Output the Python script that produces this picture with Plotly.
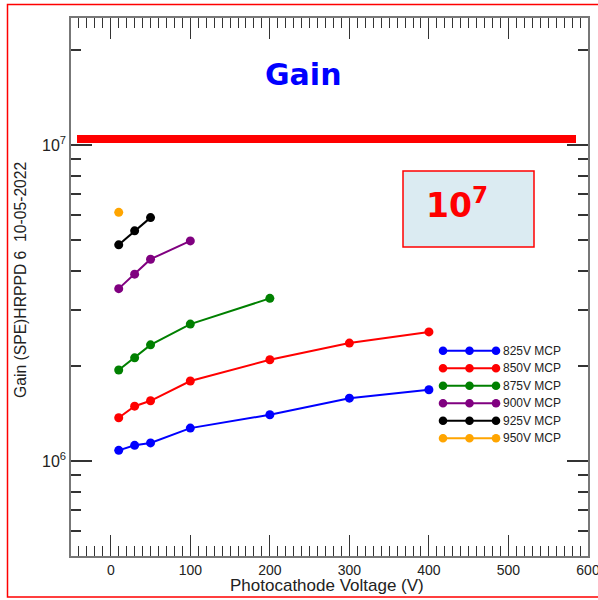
import plotly.graph_objects as go
import math

# ---------------- data ----------------
series_names = ["825V MCP", "850V MCP", "875V MCP", "900V MCP", "925V MCP", "950V MCP"]
series_colors = ["#0000ff", "#ff0000", "#008000", "#800080", "#000000", "#ffa500"]

V_825 = [10, 30, 50, 100, 200, 300, 400]
G_825 = [1.08e6, 1.12e6, 1.14e6, 1.27e6, 1.40e6, 1.58e6, 1.68e6]
V_850 = [10, 30, 50, 100, 200, 300, 400]
G_850 = [1.37e6, 1.49e6, 1.55e6, 1.79e6, 2.09e6, 2.36e6, 2.56e6]
V_875 = [10, 30, 50, 100, 200]
G_875 = [1.94e6, 2.12e6, 2.33e6, 2.71e6, 3.27e6]
V_900 = [10, 30, 50, 100]
G_900 = [3.51e6, 3.90e6, 4.35e6, 4.97e6]
V_925 = [10, 30, 50]
G_925 = [4.83e6, 5.35e6, 5.89e6]
V_950 = [10]
G_950 = [6.12e6]

x_tickvals = [0, 100, 200, 300, 400, 500, 600]
y_tickvals = [1e6, 1e7]
y_ticktext = ["10<sup>6</sup>", "10<sup>7</sup>"]
y_minor = [5e5, 6e5, 7e5, 8e5, 9e5] + [k * 1e6 for k in range(2, 10)] + [2e7]

TARGET_GAIN = 1.045e7

# ---------------- layout helpers ----------------
W, H = 598, 600
L, R, T, B = 71, 588, 18, 556
X_RANGE = [-50, 600]
Y_RANGE = [math.log10(5.0e5), 7.402]


def px(p):
    return (p - L) / (R - L)


def py(p):
    return (B - p) / (B - T)


def gy(v):
    return (math.log10(v) - Y_RANGE[0]) / (Y_RANGE[1] - Y_RANGE[0])


xs = [V_825, V_850, V_875, V_900, V_925, V_950]
ys = [G_825, G_850, G_875, G_900, G_925, G_950]

fig = go.Figure()
for name, col, xv, yv in zip(series_names, series_colors, xs, ys):
    fig.add_trace(go.Scatter(
        x=xv, y=yv, mode="lines+markers", name=name,
        line=dict(color=col, width=2),
        marker=dict(color=col, size=9),
        showlegend=False,
    ))

font_main = "Liberation Sans, Arial, sans-serif"
tick_col = "#333333"

shapes = []
annotations = []

# outer red frame
shapes.append(dict(type="rect", xref="paper", yref="paper",
                   x0=px(7.5), x1=px(602), y0=py(4.5), y1=py(597),
                   line=dict(color="#ff0000", width=1.5), layer="below"))

# thick red target line at ~1e7
shapes.append(dict(type="rect", xref="paper", yref="paper",
                   x0=px(77), x1=px(576),
                   y0=gy(TARGET_GAIN) - 4 / (B - T), y1=gy(TARGET_GAIN) + 4 / (B - T),
                   fillcolor="#ff0000", line=dict(width=0), layer="above"))

# box with 10^7
shapes.append(dict(type="rect", xref="paper", yref="paper",
                   x0=px(403), x1=px(534), y0=py(247), y1=py(171),
                   fillcolor="#dbebf2", line=dict(color="#ff0000", width=1.5)))
annotations.append(dict(xref="paper", yref="paper", x=px(424), y=py(203),
                        xanchor="left", yanchor="middle", showarrow=False,
                        text="<b>10<sup>7</sup></b>",
                        font=dict(family="DejaVu Sans, sans-serif", size=33, color="#ff0000")))

# title "Gain"
annotations.append(dict(xref="paper", yref="paper", x=px(303), y=py(75),
                        xanchor="center", yanchor="middle", showarrow=False,
                        text="<b>Gain</b>",
                        font=dict(family="DejaVu Sans, sans-serif", size=30, color="#0000ff")))

# axis titles
annotations.append(dict(xref="paper", yref="paper", x=px(327), y=py(585),
                        xanchor="center", yanchor="middle", showarrow=False,
                        text="Photocathode Voltage (V)",
                        font=dict(family=font_main, size=17, color="#222222")))
annotations.append(dict(xref="paper", yref="paper", x=px(20), y=py(280),
                        xanchor="center", yanchor="middle", showarrow=False,
                        textangle=-90,
                        text="Gain (SPE)HRPPD 6  10-05-2022",
                        font=dict(family=font_main, size=15.7, color="#222222")))

# custom legend
row0, step = 350.7, 17.5
for i, (name, col) in enumerate(zip(series_names, series_colors)):
    yy = row0 + i * step
    shapes.append(dict(type="line", xref="paper", yref="paper",
                       x0=px(443), x1=px(496), y0=py(yy), y1=py(yy),
                       line=dict(color=col, width=2)))
    for cx in (443, 469.5, 496):
        r = 4.3
        shapes.append(dict(type="circle", xref="paper", yref="paper",
                           x0=px(cx - r), x1=px(cx + r), y0=py(yy + r), y1=py(yy - r),
                           fillcolor=col, line=dict(color=col, width=0)))
    annotations.append(dict(xref="paper", yref="paper", x=px(501), y=py(yy),
                            xanchor="left", yanchor="middle", showarrow=False,
                            text=name,
                            font=dict(family=font_main, size=12, color="#222222")))

fig.update_layout(
    width=W, height=H,
    margin=dict(l=L, r=W - R, t=T, b=H - B),
    paper_bgcolor="white", plot_bgcolor="white",
    showlegend=False,
    shapes=shapes, annotations=annotations,
    xaxis=dict(
        range=X_RANGE, tickmode="array", tickvals=x_tickvals, automargin=False,
        ticklabeloverflow="allow",
        ticks="inside", ticklen=21, tickwidth=1, tickcolor=tick_col,
        showline=True, linecolor="#777777", linewidth=1.5, mirror="allticks",
        showgrid=False, zeroline=False,
        tickfont=dict(family=font_main, size=14, color="#222222"),
        minor=dict(ticks="inside", tickmode="linear", tick0=0, dtick=10,
                   ticklen=10, tickwidth=1, tickcolor=tick_col, showgrid=False),
    ),
    yaxis=dict(
        type="log", range=Y_RANGE, tickmode="array", automargin=False,
        tickvals=y_tickvals, ticktext=y_ticktext,
        ticks="inside", ticklen=21, tickwidth=1.5, tickcolor=tick_col,
        showline=True, linecolor="#777777", linewidth=1.5, mirror="allticks",
        showgrid=False, zeroline=False,
        tickfont=dict(family=font_main, size=16, color="#222222"),
        minor=dict(ticks="inside", tickmode="array", tickvals=y_minor,
                   ticklen=10, tickwidth=1.5, tickcolor=tick_col, showgrid=False),
    ),
)

fig.write_html("out.html")
